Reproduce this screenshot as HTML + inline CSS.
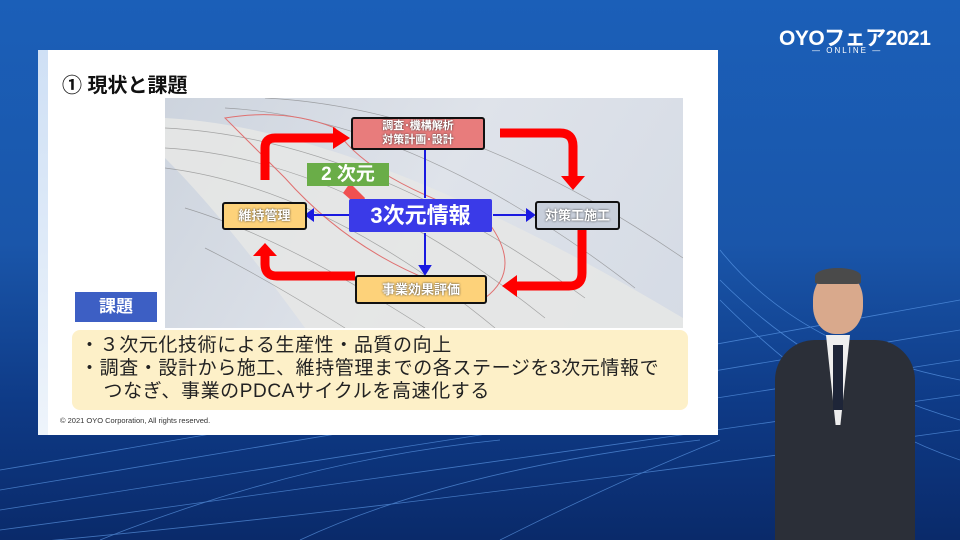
<!DOCTYPE html>
<html><head><meta charset="utf-8"><style>
*{margin:0;padding:0}
body{width:960px;height:540px;overflow:hidden;position:relative;font-family:"Liberation Sans","Noto Sans CJK JP",sans-serif;background:linear-gradient(180deg,#1b5fb8 0%,#1a56aa 45%,#0e3a86 75%,#0a2a6a 100%)}
.abs{position:absolute}
.node{position:absolute;border:2.5px solid #111;border-radius:3px;display:flex;align-items:center;justify-content:center;font-weight:bold;color:#fff;text-shadow:0 0 2px #333;box-sizing:border-box;text-align:center;line-height:1.2}
</style></head><body>
<svg class="abs" style="left:0;top:0" width="960" height="540">
<g stroke="#6fb0ff" stroke-width="0.8" fill="none" opacity="0.55">
<path d="M0 470 Q300 420 960 300"/><path d="M0 490 Q300 440 960 330"/><path d="M0 510 Q300 465 960 360"/><path d="M0 530 Q300 490 960 395"/><path d="M0 545 Q350 515 960 430"/>
<path d="M720 250 Q800 350 960 380"/><path d="M720 280 Q820 380 960 420"/><path d="M720 300 Q840 420 960 460"/>
<path d="M100 540 Q300 460 500 440"/><path d="M300 540 Q450 470 700 440"/><path d="M500 540 Q620 480 720 440"/>
</g></svg>
<div class="abs" style="left:779px;top:22px;color:#fff;font-weight:bold;font-size:21px;letter-spacing:-0.5px">OYOフェア2021</div>
<div class="abs" style="left:812px;top:46px;color:#fff;font-size:8px;letter-spacing:2px">— ONLINE —</div>
<div class="abs" style="left:38px;top:50px;width:680px;height:385px;background:#fff"></div>
<div class="abs" style="left:38px;top:50px;width:10px;height:385px;background:linear-gradient(180deg,#cfe0f5,#eef4fb)"></div>
<div class="abs" style="left:62px;top:69px;font-size:20px;font-weight:bold;color:#111">① 現状と課題</div>
<div class="abs" style="left:165px;top:98px;width:518px;height:230px;background:linear-gradient(120deg,#cdd4de,#dfe3ea 50%,#d5dbe5)"></div>
<svg class="abs" style="left:165px;top:98px" width="518" height="230">
<path d="M0 20 Q200 30 518 220 L518 230 L140 230 Q60 120 0 60Z" fill="#e6e7e6" opacity="0.9"/>
<g stroke="#777" stroke-width="0.7" fill="none" opacity="0.6">
<path d="M0 30 Q200 40 420 200"/><path d="M0 50 Q180 60 380 220"/><path d="M0 70 Q160 90 330 230"/><path d="M20 110 Q120 140 260 230"/><path d="M40 150 Q100 180 180 230"/><path d="M60 10 Q250 20 470 190"/><path d="M100 0 Q300 10 518 160"/>
</g>
<path d="M60 20 Q120 10 170 30 Q200 80 320 120 Q360 170 320 200 Q200 170 120 80Z" fill="none" stroke="#e07070" stroke-width="1"/>
<g stroke="#ff0000" stroke-width="9" fill="none">
<path d="M100 82 L100 50 Q100 40 110 40 L168 40"/>
<path d="M335 35 L395 35 Q408 35 408 48 L408 78"/>
<path d="M417 112 L417 175 Q417 188 404 188 L352 188"/>
<path d="M190 178 L112 178 Q100 178 100 166 L100 158"/>
</g>
<g fill="#ff0000">
<path d="M168 29 L185 40 L168 51Z"/><path d="M396 78 L420 78 L408 92Z"/><path d="M352 177 L337 188 L352 199Z"/><path d="M88 158 L112 158 L100 145Z"/>
</g>
<path d="M185 85 L200 100 L195 110 L178 95Z" fill="#f05050"/>
<g stroke="#1a1ae0" stroke-width="2" fill="#1a1ae0">
<line x1="260" y1="100" x2="260" y2="25"/><path d="M255 30 L260 22 L265 30Z"/>
<line x1="260" y1="135" x2="260" y2="172"/><path d="M255 168 L260 176 L265 168Z"/>
<line x1="184" y1="117" x2="145" y2="117"/><path d="M148 112 L141 117 L148 122Z"/>
<line x1="328" y1="117" x2="366" y2="117"/><path d="M362 112 L369 117 L362 122Z"/>
</g></svg>
<div class="node" style="left:351px;top:117px;width:134px;height:33px;background:#e87c7c;font-size:11px">調査･機構解析<br>対策計画･設計</div>
<div class="abs" style="left:307px;top:163px;width:82px;height:23px;background:#6aad48;color:#fff;font-weight:bold;font-size:19px;line-height:23px;text-align:center">2 次元</div>
<div class="abs" style="left:349px;top:199px;width:143px;height:33px;background:#3a3ae8;color:#fff;font-weight:bold;font-size:22px;line-height:33px;text-align:center;border-radius:2px">3次元情報</div>
<div class="node" style="left:222px;top:202px;width:85px;height:28px;background:#fdd27a;font-size:13px">維持管理</div>
<div class="node" style="left:535px;top:201px;width:85px;height:29px;background:#c8cfdb;font-size:13px">対策工施工</div>
<div class="node" style="left:355px;top:275px;width:132px;height:29px;background:#fdd27a;font-size:13px">事業効果評価</div>
<div class="abs" style="left:75px;top:292px;width:82px;height:30px;background:#3d5fc4;color:#fff;font-weight:bold;font-size:17px;line-height:30px;text-align:center">課題</div>
<div class="abs" style="left:72px;top:330px;width:616px;height:80px;background:#fdf0c8;border-radius:8px"></div>
<div class="abs" style="left:80px;top:334px;font-size:19px;letter-spacing:0.6px;line-height:23px;color:#222;white-space:nowrap">・３次元化技術による生産性・品質の向上<br>・調査・設計から施工、維持管理までの各ステージを3次元情報で<br>&nbsp;&nbsp;&nbsp;&nbsp;つなぎ、事業のPDCAサイクルを高速化する</div>
<div class="abs" style="left:60px;top:416px;font-size:7.5px;color:#333">© 2021 OYO Corporation, All rights reserved.</div>
<div class="abs" style="left:813px;top:272px;width:50px;height:62px;background:#d9a98c;border-radius:45%"></div>
<div class="abs" style="left:815px;top:268px;width:46px;height:16px;background:#4a4a4a;border-radius:50% 50% 10% 10%"></div>
<div class="abs" style="left:775px;top:340px;width:140px;height:200px;background:#2b2f38;border-radius:40px 40px 0 0"></div>
<div class="abs" style="left:826px;top:335px;width:24px;height:90px;background:#eee;clip-path:polygon(0 0,100% 0,60% 100%,40% 100%)"></div>
<div class="abs" style="left:833px;top:345px;width:10px;height:65px;background:#1e2538"></div>
</body></html>
